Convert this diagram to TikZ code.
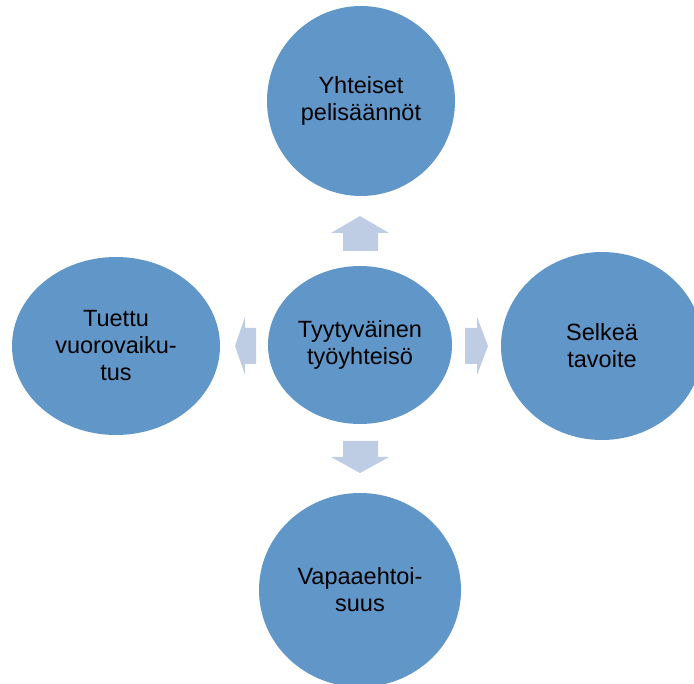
\documentclass[tikz,border=0pt]{standalone}
\usepackage{fontspec}
\setmainfont{Liberation Sans}
\usetikzlibrary{shapes.geometric}
\definecolor{bubbleblue}{RGB}{97,150,200}
\definecolor{arrowgrey}{RGB}{190,205,228}
\begin{document}
\begin{tikzpicture}[
    x=1pt, y=-1pt,
    font=\fontsize{23.5}{27}\selectfont,
    bubble/.style={ellipse, fill=bubbleblue, inner sep=0pt, align=center},
    fatarrow/.style={fill=arrowgrey},
  ]
  \useasboundingbox (0,0) rectangle (694,684);
  % keskellä: tyytyväinen työyhteisö
  \node[bubble, minimum width=184pt, minimum height=158pt] (centre) at (360,345) {Tyytyväinen\\työyhteisö};
  % ympärillä neljä tekijää
  \node[bubble, minimum width=188pt, minimum height=190pt] (top)    at (361,101) {Yhteiset\\pelisäännöt};
  \node[bubble, minimum width=208pt, minimum height=178pt] (left)   at (116,346) {Tuettu\\vuorovaiku-\\tus};
  \node[bubble, minimum width=202pt, minimum height=188pt] (right)  at (602,346) {Selkeä\\tavoite};
  \node[bubble, minimum width=202pt, minimum height=194pt] (bottom) at (360,590) {Vapaaehtoi-\\suus};
  % nuolet keskeltä ulospäin
  \fill[fatarrow] (343,251) -- (343,233) -- (331,233) -- (360,216) -- (389,233) -- (378,233) -- (378,251) -- cycle;
  \fill[fatarrow] (343,441) -- (343,457) -- (331,457) -- (360,473) -- (389,457) -- (378,457) -- (378,441) -- cycle;
  \fill[fatarrow] (256,328) -- (245,328) -- (245,317) -- (235,346) -- (245,375) -- (245,364) -- (256,364) -- cycle;
  \fill[fatarrow] (465,328) -- (477,328) -- (477,317) -- (488,346) -- (477,375) -- (477,364) -- (465,364) -- cycle;
\end{tikzpicture}
\end{document}
